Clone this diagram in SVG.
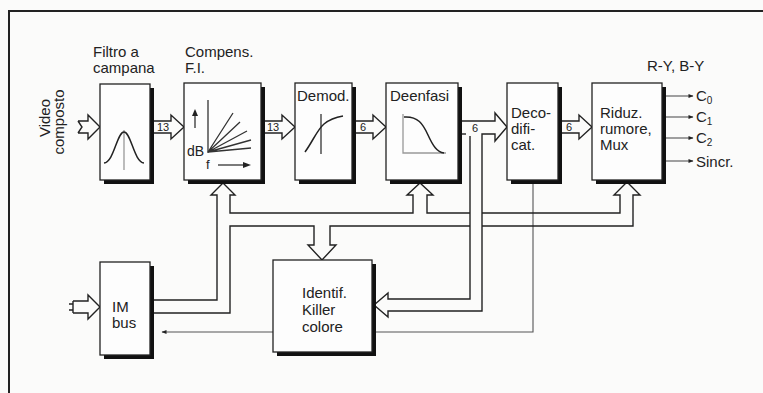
<svg xmlns="http://www.w3.org/2000/svg" width="763" height="393" viewBox="0 0 763 393">
<style>
text{font-family:"Liberation Sans",Arial,sans-serif;font-size:15px;fill:#222}
.small{font-size:11px}
.box{fill:#fdfdfd;stroke:#222;stroke-width:1.3}
.shadow{fill:#111}
.barrow{fill:none;stroke:#222;stroke-width:1.4;stroke-linejoin:miter}
.wire{fill:none;stroke:#333;stroke-width:1.3}
.thin{fill:none;stroke:#555;stroke-width:1.1}
.gray{fill:none;stroke:#999;stroke-width:1.3}
.curve{fill:none;stroke:#222;stroke-width:1.5}
</style>
<defs>
<marker id="ah" viewBox="0 0 10 10" refX="9" refY="5" markerWidth="7" markerHeight="5" orient="auto" markerUnits="userSpaceOnUse">
<path d="M0,1 L10,5 L0,9 Z" fill="#222"/>
</marker>
</defs>
<rect x="0" y="0" width="763" height="393" fill="#fbfbfa"/>
<path d="M9,393 V11 H763" fill="none" stroke="#222" stroke-width="2"/>

<g id="connectors">
<!-- input arrows -->
<path class="barrow" d="M78,121 H88 V115 L100,127 L88,139 V133 H78 M78,121 L82,127 L78,133"/>
<path class="barrow" d="M73,301 H88 V295 L100,307 L88,319 V313 H73 M73,301 V313 M73,304 H69 M73,310 H69"/>
<!-- chain block arrows -->
<path class="barrow" d="M154,121 H171 V115 L184,127 L171,139 V133 H154"/>
<path class="barrow" d="M265,121 H282 V115 L295,127 L282,139 V133 H265"/>
<path class="barrow" d="M356,121 H373 V115 L386,127 L373,139 V133 H356"/>
<path class="barrow" d="M562,121 H579 V115 L592,127 L579,139 V133 H562"/>
<!-- Deenfasi to Decodificat and to Identif -->
<path class="barrow" d="M462,121 H495 V113 L507,127 L495,141 V134 H482 V311 H388 V317 L374,305 L388,293 V299 H470 V136"/>
<path class="barrow" d="M462,134 H466"/>
<!-- Deco wire back to IM bus -->
<path class="thin" d="M533,184 V332 H162" marker-end="url(#ah)"/>
<!-- control bus -->
<path class="barrow" d="M154,300 H217 V195 H211 L223,183 L235,195 H230 V213 H413 V195 H407 L420,183 L433,195 H427 V213 H470 M482,213 H620 V195 H614 L627,182 L640,195 H633 V226 H482 M470,226 H330 V245 H336 L322,260 L308,245 H314 V226 H230 V313 H154"/>
<!-- outputs -->
<path class="thin" d="M666,96 H693" marker-end="url(#ah)"/>
<path class="thin" d="M666,117 H693" marker-end="url(#ah)"/>
<path class="thin" d="M666,138 H693" marker-end="url(#ah)"/>
<path class="thin" d="M666,161 H693" marker-end="url(#ah)"/>
<text class="small" x="157" y="131">13</text>
<text class="small" x="267" y="131">13</text>
<text class="small" x="360" y="131">6</text>
<text class="small" x="472" y="132">6</text>
<text class="small" x="566" y="131">6</text>
</g>

<g id="filtro">
<rect class="shadow" x="104" y="88" width="50" height="96"/>
<rect class="box" x="100" y="84" width="50" height="96"/>
<line class="gray" x1="124" y1="130" x2="124" y2="170"/>
<path class="curve" d="M104,163 C114,162 117,132 124,132 C131,132 134,162 144,163"/>
</g>

<g id="compens">
<rect class="shadow" x="188" y="87" width="77" height="97"/>
<rect class="box" x="184" y="83" width="77" height="97"/>
<line class="wire" x1="208" y1="100" x2="208" y2="153"/>
<line class="wire" x1="195" y1="128" x2="195" y2="114"/>
<path d="M192,116 L195,109 L198,116 Z" fill="#222"/>
<path class="wire" d="M208,152 L233,113 M208,152 L240,122 M208,152 L247,131 M208,152 L251,140 M208,152 L251,148"/>
<line class="wire" x1="218" y1="165" x2="244" y2="165"/>
<path d="M243,162 L251,165 L243,168 Z" fill="#222"/>
<text x="187" y="156" style="font-size:14px">dB</text>
<text x="206" y="169" style="font-size:13px">f</text>
</g>

<g id="demod">
<rect class="shadow" x="299" y="87" width="57" height="97"/>
<rect class="box" x="295" y="83" width="57" height="97"/>
<line class="wire" x1="321" y1="114" x2="321" y2="154"/>
<path class="curve" d="M305,152 C313,141 317,130 324,124 C330,119 337,117 343,116"/>
<text x="297" y="101">Demod.</text>
</g>

<g id="deenfasi">
<rect class="shadow" x="390" y="87" width="72" height="97"/>
<rect class="box" x="386" y="83" width="72" height="97"/>
<path class="gray" d="M403,114 V153 H446"/>
<path class="curve" d="M404,117 C418,116 423,124 428,135 C433,146 437,152 444,153"/>
<text x="390" y="101">Deenfasi</text>
</g>

<g id="decodificat">
<rect class="shadow" x="511" y="87" width="51" height="97"/>
<rect class="box" x="507" y="83" width="51" height="97"/>
<text x="511" y="118">Deco-</text>
<text x="511" y="134">difi-</text>
<text x="511" y="150">cat.</text>
</g>

<g id="riduz">
<rect class="shadow" x="596" y="87" width="70" height="97"/>
<rect class="box" x="592" y="83" width="70" height="97"/>
<text x="600" y="118">Riduz.</text>
<text x="600" y="134">rumore,</text>
<text x="600" y="150">Mux</text>
</g>

<g id="imbus">
<rect class="shadow" x="104" y="266" width="50" height="93"/>
<rect class="box" x="100" y="262" width="50" height="93"/>
<text x="112" y="312">IM</text>
<text x="112" y="328">bus</text>
</g>

<g id="identif">
<rect class="shadow" x="277" y="264" width="99" height="92"/>
<rect class="box" x="273" y="260" width="99" height="92"/>
<text x="302" y="298">Identif.</text>
<text x="302" y="315">Killer</text>
<text x="302" y="332">colore</text>
</g>

<g id="labels">
<text x="93" y="57">Filtro a</text>
<text x="93" y="73">campana</text>
<text x="185" y="57">Compens.</text>
<text x="185" y="73">F.I.</text>
<text transform="translate(50,118) rotate(-90)" text-anchor="middle">Video</text>
<text transform="translate(64,122) rotate(-90)" text-anchor="middle">composto</text>
<text x="647" y="71">R-Y, B-Y</text>
<text x="696" y="101">C<tspan style="font-size:10px" dy="3">0</tspan></text>
<text x="696" y="122">C<tspan style="font-size:10px" dy="3">1</tspan></text>
<text x="696" y="143">C<tspan style="font-size:10px" dy="3">2</tspan></text>
<text x="696" y="167">Sincr.</text>
</g>
</svg>
